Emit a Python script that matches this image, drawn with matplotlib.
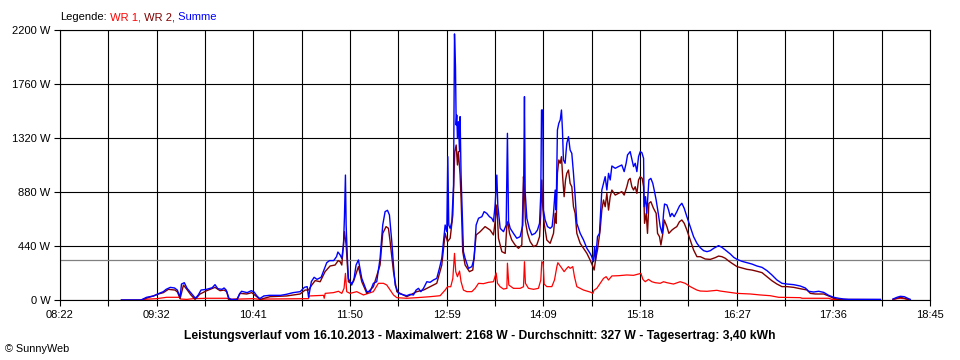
import numpy as np
import matplotlib
matplotlib.use("Agg")
import matplotlib.pyplot as plt

plt.rcParams['font.family'] = ['Liberation Sans', 'DejaVu Sans']

# ---- data (time in minutes since midnight, power in W) ----
summe_t = [546, 560, 564, 569, 572, 576, 578, 581, 584, 586, 588, 589, 591, 593, 596, 599, 601, 603, 607, 611,
           613, 615, 618, 619.5, 621, 623, 625, 629, 630.5, 632, 636, 639, 641, 643, 645, 648, 652, 660, 664, 669,
           674, 677, 679, 680, 682, 684, 686, 689, 691, 693, 695, 698, 700, 701, 702.6, 703.8, 705, 705.7, 706.4, 706.9,
           707.8, 708.5, 710.9, 712.6, 714, 715.7, 718.1, 721.7, 724.1, 726.4, 728.8, 731.2, 733.1, 734.8, 736.5, 737.9,
           739.6, 740.8, 742, 744.4, 746.7, 750.3, 752.7, 755.1, 757, 758.7, 760.4, 762.3, 764.7, 767, 769.4, 771.8,
           773.7, 775.4, 776.6, 777.8, 779, 779.7, 780.4, 781.4, 782.6, 783.8, 784.5, 785.2, 785.7, 786.1, 786.6, 787.3,
           788.1, 788.5, 789.2, 790, 790.9, 792.1, 794.5, 796.9, 798.6, 800, 801.7, 804.1, 805.7, 807.6, 809.5, 811.2,
           812.4, 813.6, 814.8, 815.5, 817.2, 819.6, 821.5, 822.4, 823.2, 824.4, 826.7, 829.1, 831.5, 833.4, 834.1, 834.6,
           835.1, 836.3, 838, 839.9, 842.2, 843.9, 845.4, 846.3, 846.8, 847.7, 848.2, 849.4, 851.1, 853, 854.4, 855.4,
           856.6, 857.3, 858.2, 859.2, 860.2, 861.1, 861.8, 862.5, 863.7, 864.9, 866.1, 867.3, 868.5, 869.7, 870.9, 872.1,
           874.5, 876.9, 879.3, 881.6, 882.8, 884, 884.8, 885.5, 886.9, 888.3, 890, 891.2, 892.4, 893.6, 894.8, 896,
           897.2, 899.6, 901.9, 904.3, 906, 907.4, 908.4, 910.3, 912.7, 913.9, 915.1, 916.3, 917.5, 918.7, 919.9, 920.3,
           921.3, 922.2, 923.7, 925.1, 926.5, 927.5, 928.9, 930.4, 931.8, 933.2, 934.2, 934.9, 936.6, 937.8, 939, 940.2,
           941.8, 943.7, 945.6, 947.3, 949, 950.9, 953.3, 955.7, 958.1, 960.5, 962.9, 965.3, 967.7, 970.1, 972.4, 973.6,
           976, 978.4, 982, 984.4, 986.8, 990.4, 993.9, 997.5, 1001.1, 1004.7, 1008.3, 1011.8, 1015.4, 1019, 1022.6,
           1027.4, 1032.1, 1035.7, 1038.1, 1041.7, 1045.3, 1048.9, 1052.4, 1056, 1059.6, 1063.2, 1066.8, 1079.9, 1089.5,
           1092, 1098.5, 1101.4, 1103.8, 1106.6, 1109, 1110.9]
summe_w = [0, 0, 22, 33, 49, 68, 87, 103, 98, 81, 22, 130, 141, 95, 54, 14, 41, 81, 87, 100,
           125, 92, 87, 98, 81, 14, 3, 5, 49, 71, 60, 76, 65, 33, 11, 33, 38, 38, 46, 60,
           68, 103, 109, 22, 150, 185, 168, 185, 245, 304, 321, 321, 353, 391, 367, 339, 448, 679, 1018, 611,
           339, 176, 122, 176, 285, 326, 176, 68, 68, 136, 149, 339, 611, 720, 731, 693,
           475, 285, 122, 54, 46, 35, 46, 41, 81, 95, 68, 95, 149, 144, 163, 176,
           258, 339, 475, 611, 557, 1168, 611, 584, 638, 937, 2168, 1901, 1426, 1507, 1317, 1453,
           1209, 1494, 1018, 720, 394, 339, 258, 272, 339, 611, 666, 679, 720, 706, 679, 666,
           638, 774, 1018, 774, 584, 557, 611, 1358, 638, 584, 543, 503, 516, 611, 1018, 1657,
           883, 666, 584, 530, 543, 570, 625, 869, 1548, 1548, 733, 652, 598, 584, 598, 706,
           896, 733, 1385, 1440, 1467, 1548, 1385, 1141, 1114, 1276, 1331, 1222, 1195, 1032, 842, 625,
           543, 489, 421, 380, 353, 312, 435, 326, 516, 543, 896, 950, 1005, 896, 1032, 978,
           1092, 1073, 1087, 1100, 1046, 1114, 1182, 1209, 1087, 1114, 1046, 1168, 1209, 1200, 1154, 760,
           842, 706, 978, 991, 950, 896, 815, 706, 598, 543, 706, 782, 774, 733, 679, 706,
           679, 720, 766, 788, 747, 679, 598, 516, 462, 426, 402, 394, 402, 421, 435, 443,
           429, 408, 375, 348, 331, 315, 304, 293, 277, 266, 239, 204, 163, 136, 130,
           125, 114, 98, 71, 65, 71, 62, 38, 22, 14, 8, 5, 5, 5,
           np.nan, 8, 22, 30, 27, 14, 5]

wr2_t = [546, 560.5, 564.1, 568.9, 572.5, 576, 579.6, 584.4, 586.1, 588, 590.4, 593.2, 595.6, 598.7, 602.3, 607.1,
         613, 616.6, 619.5, 621.4, 622.8, 628.6, 631, 635.7, 639.3, 642.9, 645.3, 652.4, 664.4, 673.9, 677.5, 679.9,
         682.3, 684.7, 688.3, 691.8, 695.4, 699, 701.2, 702.6, 703.8, 705.7, 706.9, 708.5, 710.2, 712.1, 715.7, 718.1,
         721.7, 726.4, 731.2, 733.1, 735.5, 737.2, 738.4, 740.8, 743.2, 750.3, 757.5, 762.3, 767, 771.8, 775.4, 777.8,
         779.5, 781.4, 783.3, 784.7, 785.7, 786.6, 787.3, 788.5, 789.2, 790.4, 792.1, 795.2, 797.6, 800, 802.9, 806.4,
         810, 812.4, 813.6, 814.8, 816, 818.4, 820.8, 822, 822.7, 823.9, 825.5, 827.9, 830.3, 832.7, 833.9, 834.6,
         835.3, 836.8, 838.7, 841.1, 843.4, 845.4, 846.3, 847, 847.7, 848.7, 850.6, 853, 855.4, 856.6, 857.3, 858.2,
         859.2, 860.2, 861.1, 862.1, 863, 864, 864.9, 866.1, 867.3, 868.5, 869.7, 870.9, 872.1, 874.5, 876.9, 879.3,
         881.6, 883.6, 884.5, 885.5, 886.9, 888.8, 890, 891.2, 892.4, 893.6, 894.8, 896, 897.2, 899.6, 901.9, 904.3,
         906, 907.9, 909.1, 910.3, 911.5, 912.7, 913.9, 915.1, 916.3, 917.5, 918.9, 919.9, 920.6, 921.8, 922.7, 923.7,
         925.1, 927, 928.9, 929.9, 931.3, 932.3, 933.7, 934.7, 936.6, 938, 940.2, 941.8, 943.7, 945.6, 947.3, 949,
         950.9, 953.3, 955.7, 958.1, 960.5, 964.1, 967.7, 971.2, 973.6, 976, 978.4, 980.8, 983.2, 986.8, 990.4, 993.9,
         997.5, 1001.1, 1004.7, 1008.3, 1011.8, 1015.4, 1019, 1022.6, 1027.4, 1032.1, 1036.9, 1039.3, 1042.9, 1048.9,
         1052.4, 1056, 1059.6, 1089.5, 1092, 1098.5, 1101.4, 1103.8, 1106.6, 1109.8]
wr2_w = [0, 0, 16, 33, 49, 60, 87, 81, 65, 11, 122, 81, 43, 5, 49, 76,
         103, 76, 81, 68, 5, 5, 54, 49, 60, 27, 5, 27, 33, 49, 81, 81,
         122, 158, 149, 231, 277, 285, 321, 312, 285, 557, 448, 149, 136, 149, 272, 149,
         54, 108, 285, 543, 598, 584, 475, 231, 68, 27, 68, 81, 108, 136, 285, 543,
         475, 503, 693, 1209, 1263, 1100, 1209, 1018, 828, 394, 285, 231, 244, 530, 557, 598,
         570, 530, 638, 774, 503, 394, 380, 611, 638, 543, 489, 448, 421, 448, 1005, 883,
         638, 543, 475, 435, 448, 516, 706, 978, 760, 625, 489, 462, 543, 706, 625, 1032,
         1141, 1114, 1168, 978, 842, 978, 1032, 1059, 950, 923, 760, 706, 543, 462, 421, 380,
         326, 272, 244, 326, 408, 570, 733, 815, 760, 869, 733, 842, 896, 855, 869, 883,
         855, 923, 978, 991, 923, 896, 923, 869, 978, 1005, 991, 923, 625, 706, 543, 788,
         801, 747, 706, 543, 516, 448, 543, 652, 598, 543, 570, 584, 598, 638, 652, 625,
         570, 489, 408, 353, 353, 334, 331, 345, 358, 353, 340, 318, 299, 272, 261, 250,
         244, 234, 223, 190, 157, 130, 109, 109, 103, 92, 82, 54, 49, 49,
         33, 14, 5, 3, np.nan, 5, 14, 22, 14, 3]

wr1_t = [561.7, 571.3, 578.4, 587.5, 588.4, 592.8, 597.5, 607.1, 621.4, 623.8, 631, 640.5, 645.3, 650.1, 673.9,
         679.9, 680.6, 690.7, 691.2, 691.9, 697.8, 701.4, 703.8, 705.4, 706.4, 707.3, 709.7, 714.5, 719.3, 726.4, 730,
         733.6, 736, 738.4, 740.8, 743.2, 750.3, 757.5, 767, 774.2, 777.8, 779.5, 781.8, 783.3, 784.5, 785.4, 786.6,
         788.1, 789.2, 790.9, 793.3, 796.9, 799.3, 801.7, 805.2, 808.8, 812.4, 814.3, 815.3, 817.2, 819.6, 822, 822.4,
         823.4, 826.7, 831.5, 833.9, 834.6, 835.3, 837.5, 841.1, 844.6, 846.3, 847, 848, 848.7, 850.6, 854.2, 856.1,
         857.8, 858.5, 859.7, 861.4, 863, 864.9, 866.1, 867.3, 869.2, 870.4, 872.1, 874.5, 876.9, 879.3, 881.6, 883.6,
         884.5, 886.4, 888.8, 891.2, 893.1, 894.8, 897.2, 901.9, 907.9, 912.7, 916.3, 918, 919.4, 921.1, 923.4, 925.8,
         928.2, 931.8, 934.2, 936.6, 941.3, 946.1, 949.7, 953.3, 958.1, 960.5, 965.3, 972.4, 974.8, 982, 986.8, 996.3,
         1003.5, 1010.6, 1016.6, 1032.1, 1033.3, 1052.4, 1054.8, 1065.6, 1089.5, 1092, 1098.5, 1101.4, 1103.8, 1106.6,
         1109.8]
wr1_w = [5, 11, 22, 22, 8, 5, 11, 14, 14, 5, 8, 11, 5, 8, 11,
         11, 33, 38, 14, 54, 60, 71, 54, 95, 217, 68, 54, 68, 41, 68, 136,
         136, 122, 81, 41, 19, 14, 19, 27, 35, 81, 108, 108, 176, 380, 231, 190,
         236, 149, 81, 68, 68, 95, 136, 133, 144, 149, 220, 136, 108, 89, 95, 300,
         122, 95, 95, 108, 312, 136, 95, 87, 95, 163, 312, 299, 130, 109, 109, 163,
         272, 304, 285, 258, 231, 258, 272, 258, 272, 190, 109, 95, 81, 73, 65, 54,
         81, 95, 136, 176, 190, 163, 196, 198, 204, 201, 212, 217, 168, 149, 168, 149,
         141, 136, 149, 141, 130, 149, 136, 109, 81, 73, 71, 79, 73, 62, 54, 49,
         41, 35, 22, 19, 14, 14, 5, 3, 3, np.nan, 3, 11, 14, 11,
         3]

average_w = 327
x_start, x_end = 502, 1125          # 08:22 .. 18:45
x_labels = ["08:22", "09:32", "10:41", "11:50", "12:59", "14:09", "15:18", "16:27", "17:36", "18:45"]
y_ticks = [0, 440, 880, 1320, 1760, 2200]
title = "Leistungsverlauf vom 16.10.2013 - Maximalwert: 2168 W - Durchschnitt: 327 W - Tagesertrag: 3,40 kWh"
legend_parts = [("Legende:", "black"), (" WR 1,", "#ff0000"), (" WR 2,", "#800000"), (" Summe", "#0000ff")]

# ---- figure ----
W, H = 960, 360
fig = plt.figure(figsize=(W / 100, H / 100), dpi=100)
ax = fig.add_axes([60 / W, 1 - 300 / H, 870 / W, 270 / H])

ax.plot(wr1_t, wr1_w, color="#ff0000", lw=0.9, zorder=3)
ax.plot(wr2_t, wr2_w, color="#800000", lw=1.0, zorder=4)
ax.plot(summe_t, summe_w, color="#0000ff", lw=1.0, zorder=5)
ax.axhline(average_w, color="#808080", lw=0.9, zorder=2)

ax.set_xlim(x_start, x_end)
ax.set_ylim(0, 2200)
n_major = 2 * (len(x_labels) - 1)
xt = np.linspace(x_start, x_end, n_major + 1)
ax.set_xticks(xt)
ax.set_xticklabels([x_labels[i // 2] if i % 2 == 0 else "" for i in range(n_major + 1)])
ax.set_yticks(y_ticks)
ax.set_yticklabels([f"{v} W" for v in y_ticks])
ax.grid(True, color="black", lw=0.8, zorder=1)
ax.set_axisbelow(True)
ax.tick_params(axis="both", length=4, width=0.8, color="black", labelsize=8, pad=3)
for s in ax.spines.values():
    s.set_linewidth(0.8)
    s.set_color("black")

fig.text(480 / W, 1 - 336 / H, title, ha="center", va="center", fontsize=8.7, fontweight="bold")
fig.text(5 / W, 1 - 349 / H, "\u00a9 SunnyWeb", ha="left", va="center", fontsize=7.8)

fig.canvas.draw()
r = fig.canvas.get_renderer()
x = 60 / W
for s, c in legend_parts:
    t = fig.text(x, 1 - 17 / H, s, color=c, fontsize=8, ha="left", va="center")
    bb = t.get_window_extent(r)
    x = bb.x1 / fig.bbox.width

fig.savefig("out.png", dpi=100)
